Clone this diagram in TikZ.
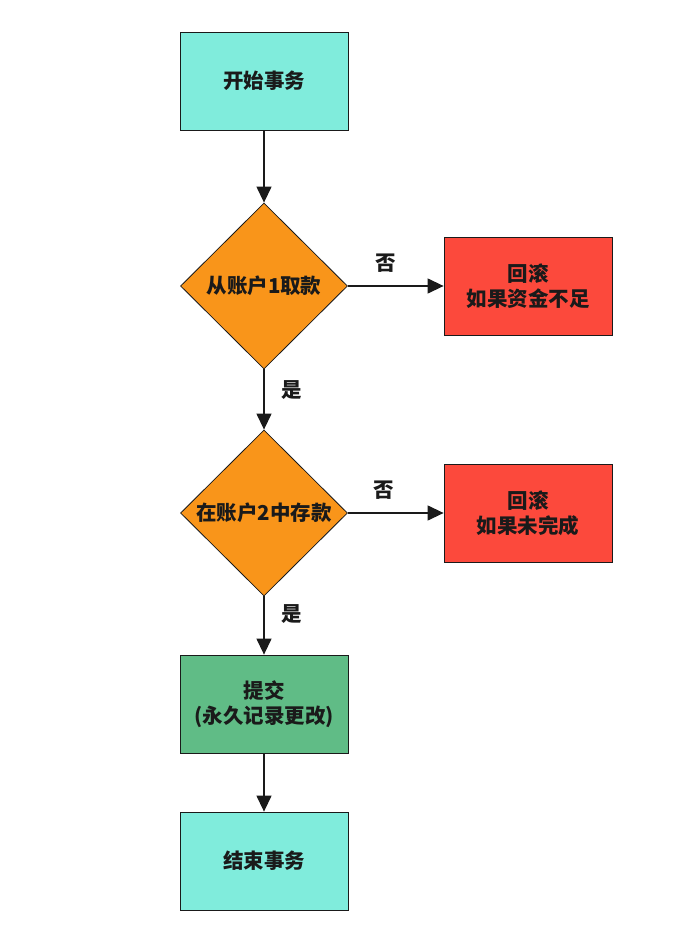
\documentclass[tikz,border=0pt]{standalone}
\usepackage{fontspec}
\setmainfont{Noto Sans CJK SC}
\usetikzlibrary{shapes.geometric, arrows.meta}

\definecolor{startcol}{HTML}{80ECDC}
\definecolor{checkcol}{HTML}{F9951A}
\definecolor{failcol}{HTML}{FC493C}
\definecolor{commitcol}{HTML}{60BC86}
\definecolor{inkcol}{HTML}{1A1A1A}

\begin{document}
\begin{tikzpicture}[
    x=1pt, y=-1pt,
    font=\fontsize{20.5}{25}\selectfont\bfseries,
    every node/.style={text=inkcol},
    stepbox/.style={draw=inkcol, line width=0.8pt, minimum width=168pt,
                    minimum height=98pt, align=center, inner sep=0pt},
    check/.style={diamond, draw=inkcol, line width=0.8pt, fill=checkcol,
                  minimum width=167pt, minimum height=166pt, inner sep=0pt},
    arr/.style={-{Triangle[length=16pt, width=15pt]}, line width=1.3pt,
                draw=inkcol}
  ]
  \useasboundingbox (0,0) rectangle (678,931);

  % Nodes
  \node[stepbox, fill=startcol]  (begin)  at (264,81)  {开始事务};
  \node[check]                   (take)   at (264,286) {从账户1取款};
  \node[stepbox, fill=failcol]   (undo1)  at (528,286) {回滚\\如果资金不足};
  \node[check]                   (put)    at (264,513) {在账户2中存款};
  \node[stepbox, fill=failcol]   (undo2)  at (528,513) {回滚\\如果未完成};
  \node[stepbox, fill=commitcol] (commit) at (264,704) {提交\\(永久记录更改)};
  \node[stepbox, fill=startcol]  (finish) at (264,861) {结束事务};

  % Arrows
  \draw[arr] (begin) -- (take);
  \draw[arr] (take)  -- node[pos=0.4, above=10pt]{否} (undo1);
  \draw[arr] (take)  -- node[pos=0.35, right=14pt]{是} (put);
  \draw[arr] (put)   -- node[pos=0.37, above=10pt]{否} (undo2);
  \draw[arr] (put)   -- node[pos=0.3, right=14pt]{是} (commit);
  \draw[arr] (commit) -- (finish);
\end{tikzpicture}
\end{document}
